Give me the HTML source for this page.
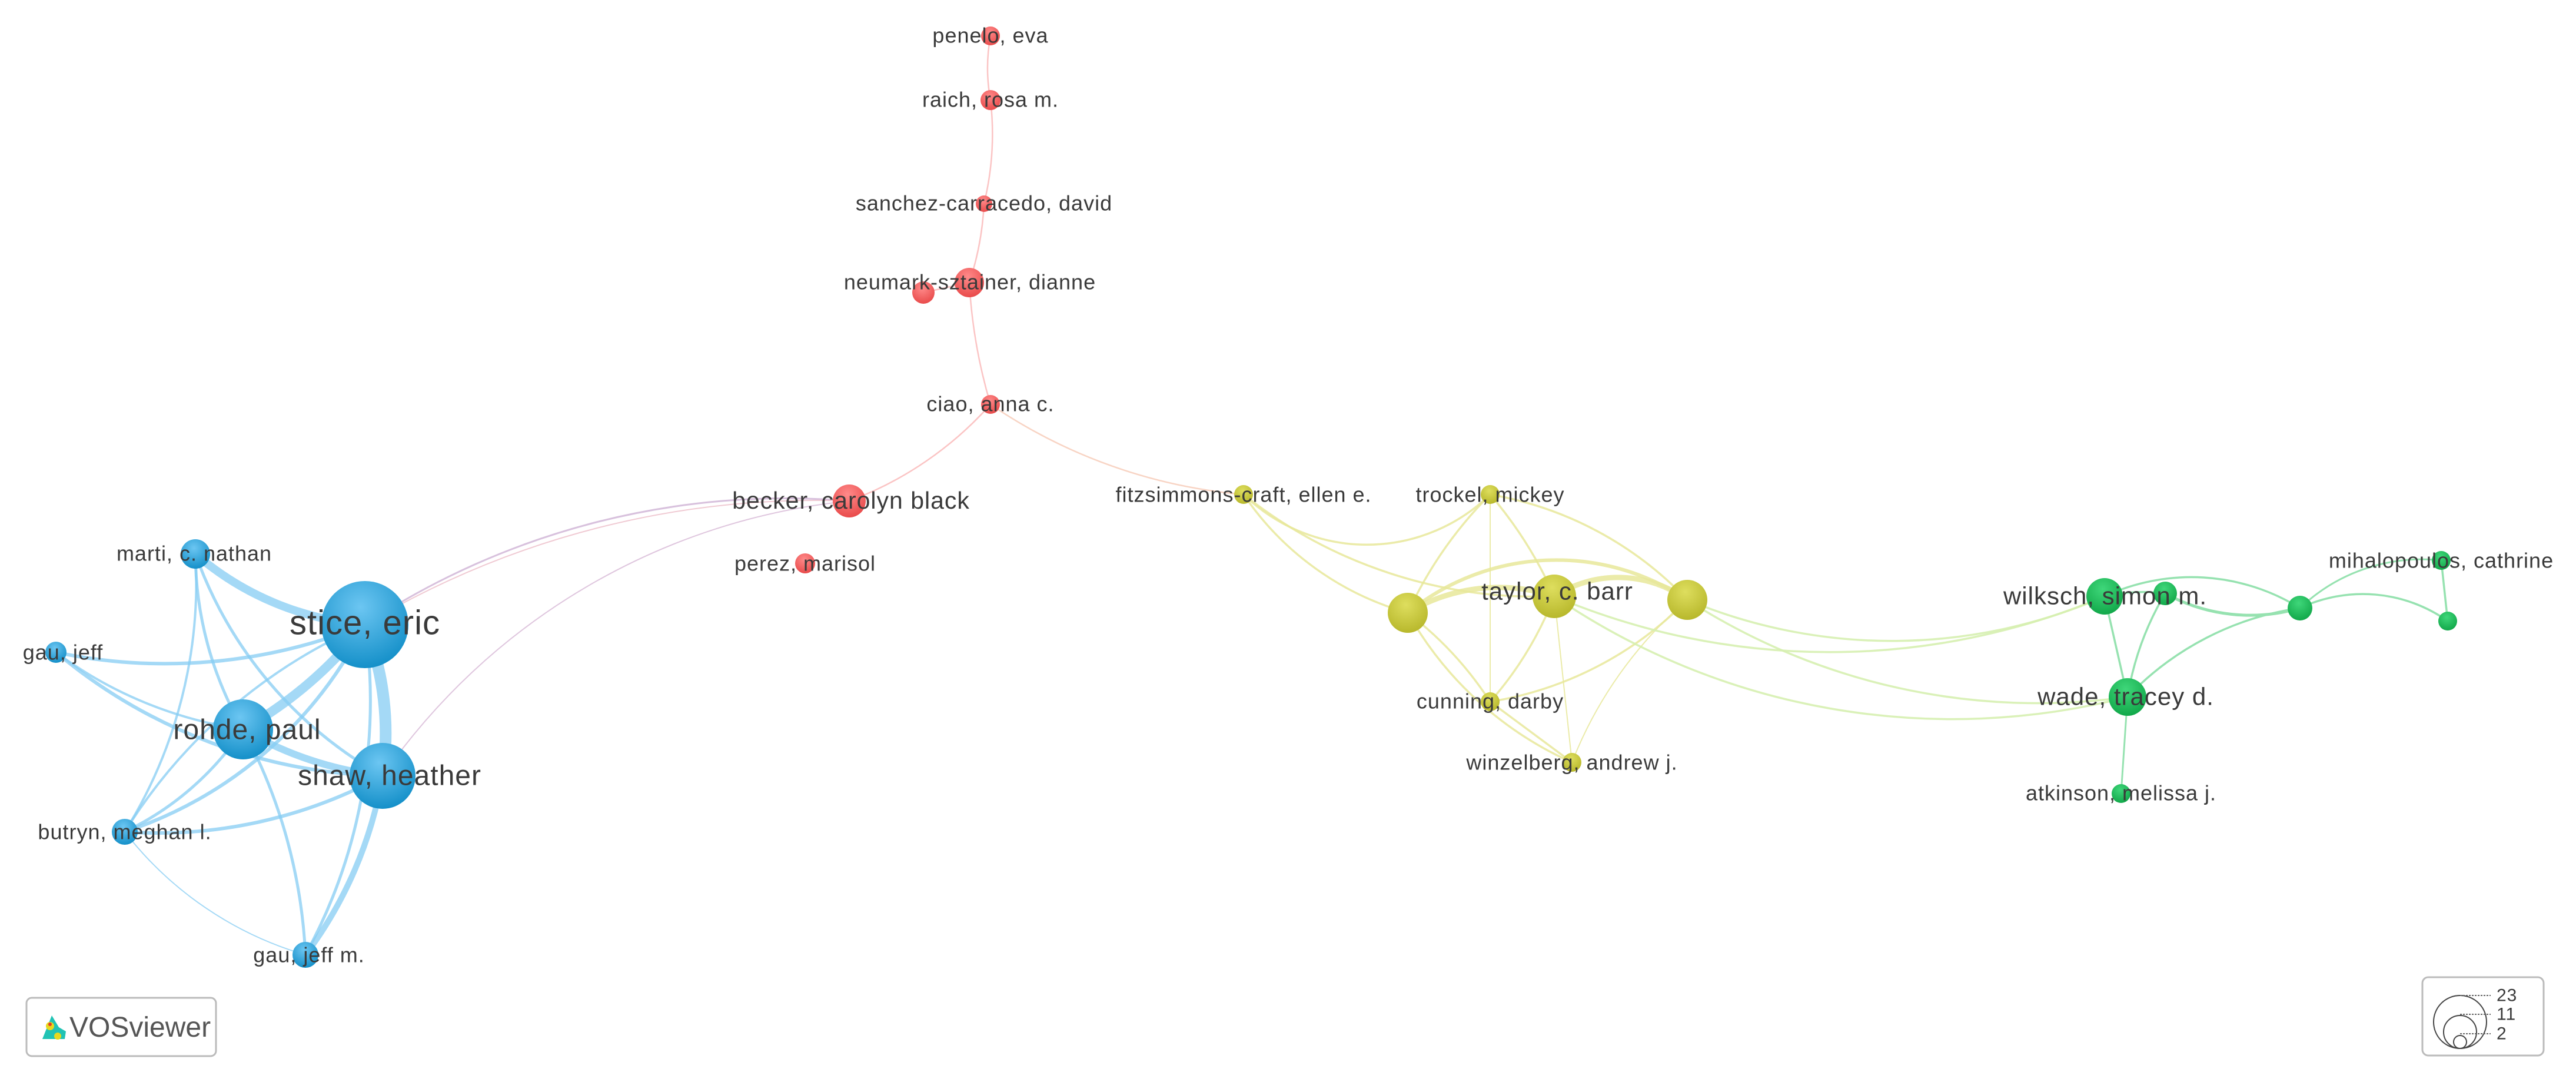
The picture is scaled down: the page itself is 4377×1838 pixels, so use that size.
<!DOCTYPE html>
<html><head><meta charset="utf-8"><style>
html,body{margin:0;padding:0;background:#fff;}
svg{display:block;}
text{font-family:"Liberation Sans",sans-serif;fill:#3a3a3a;letter-spacing:1px;}
</style></head><body>
<svg width="4377" height="1838" viewBox="0 0 4377 1838" xmlns="http://www.w3.org/2000/svg">
<defs>
<radialGradient id="gb" cx="45%" cy="30%" r="70%"><stop offset="0" stop-color="#6cc6f2"/><stop offset="1" stop-color="#1590c9"/></radialGradient>
<radialGradient id="gr" cx="45%" cy="30%" r="70%"><stop offset="0" stop-color="#ff8a8a"/><stop offset="1" stop-color="#e94b4b"/></radialGradient>
<radialGradient id="gy" cx="45%" cy="30%" r="70%"><stop offset="0" stop-color="#dede5e"/><stop offset="1" stop-color="#b8b82c"/></radialGradient>
<radialGradient id="gg" cx="45%" cy="30%" r="70%"><stop offset="0" stop-color="#3fd77a"/><stop offset="1" stop-color="#12a84a"/></radialGradient>
</defs>
<g fill="none" stroke="#86ccf3" stroke-opacity="0.75" stroke-linecap="round">
<path d="M332 941 A500 500 0 0 0 620 1061" stroke-width="14"/>
<path d="M620 1061 A700 700 0 0 1 413 1239" stroke-width="16"/>
<path d="M620 1061 A500 500 0 0 1 650 1318" stroke-width="20"/>
<path d="M413 1239 A600 600 0 0 0 650 1318" stroke-width="12"/>
<path d="M95 1108 A900 900 0 0 0 620 1061" stroke-width="6"/>
<path d="M212 1413 A700 700 0 0 0 620 1061" stroke-width="6"/>
<path d="M212 1413 A900 900 0 0 1 620 1061" stroke-width="4"/>
<path d="M332 941 A600 600 0 0 0 413 1239" stroke-width="5"/>
<path d="M332 941 A700 700 0 0 0 650 1318" stroke-width="5"/>
<path d="M332 941 A800 800 0 0 1 212 1413" stroke-width="4"/>
<path d="M95 1108 A900 900 0 0 0 650 1318" stroke-width="6"/>
<path d="M95 1108 A700 700 0 0 0 413 1239" stroke-width="4"/>
<path d="M413 1239 A500 500 0 0 1 212 1413" stroke-width="5"/>
<path d="M212 1413 A800 800 0 0 0 650 1318" stroke-width="6"/>
<path d="M413 1239 A900 900 0 0 1 519 1622" stroke-width="5"/>
<path d="M650 1318 A700 700 0 0 1 519 1622" stroke-width="10"/>
<path d="M620 1061 A900 900 0 0 1 519 1622" stroke-width="5"/>
<path d="M212 1413 A600 600 0 0 0 519 1622" stroke-width="2"/>
</g>
<g fill="none" stroke="#c8a6cf" stroke-opacity="0.7">
<path d="M620 1061 A1300 1300 0 0 1 1443 851" stroke-width="3"/>
<path d="M620 1061 A1500 1500 0 0 1 1443 851" stroke-width="2" stroke="#e9b3c0"/>
<path d="M650 1318 A1100 1100 0 0 1 1443 851" stroke-width="2" stroke="#d2aed0"/>
</g>
<g fill="none" stroke="#fbc4c4" stroke-width="2.5">
<path d="M1683 61 A300 300 0 0 0 1683 170"/>
<path d="M1683 170 A500 500 0 0 1 1672 346"/>
<path d="M1672 346 A500 500 0 0 1 1647 480"/>
<path d="M1647 480 A900 900 0 0 0 1683 687"/>
<path d="M1647 480 L1569 497"/>
<path d="M1683 687 A600 600 0 0 1 1443 851"/>
<path d="M1683 687 A900 900 0 0 0 2113 840" stroke="#f8d4c4"/>
</g>
<g fill="none" stroke="#e8e89a" stroke-opacity="0.85" stroke-width="3.5">
<path d="M2113 840 A500 500 0 0 0 2392 1041"/>
<path d="M2113 840 A800 800 0 0 0 2641 1013"/>
<path d="M2113 840 A300 300 0 0 0 2532 840"/>
<path d="M2532 840 A700 700 0 0 0 2392 1041"/>
<path d="M2532 840 A700 700 0 0 1 2641 1013"/>
<path d="M2532 840 A600 600 0 0 1 2867 1019"/>
<path d="M2532 840 L2532 1192" stroke-width="2"/>
<path d="M2392 1041 A300 300 0 0 1 2641 1013" stroke-width="9"/>
<path d="M2641 1013 A200 200 0 0 1 2867 1019" stroke-width="9"/>
<path d="M2392 1041 A400 400 0 0 1 2867 1019" stroke-width="6"/>
<path d="M2392 1041 A600 600 0 0 1 2532 1192"/>
<path d="M2392 1041 A600 600 0 0 0 2671 1295"/>
<path d="M2641 1013 A600 600 0 0 1 2532 1192"/>
<path d="M2641 1013 L2671 1295" stroke-width="2"/>
<path d="M2867 1019 A600 600 0 0 1 2532 1192"/>
<path d="M2867 1019 A700 700 0 0 0 2671 1295" stroke-width="2"/>
<path d="M2532 1192 L2671 1295"/>
</g>
<g fill="none" stroke="#d6efb0" stroke-opacity="0.9" stroke-width="3.5">
<path d="M2641 1013 A1200 1200 0 0 0 3576 1013"/>
<path d="M2867 1019 A900 900 0 0 0 3576 1013"/>
<path d="M2641 1013 A1200 1200 0 0 0 3615 1184"/>
<path d="M2867 1019 A1100 1100 0 0 0 3615 1184"/>
</g>
<g fill="none" stroke="#96e2b0" stroke-width="3.5">
<path d="M3576 1013 L3615 1184"/>
<path d="M3576 1013 A300 300 0 0 1 3679 1008"/>
<path d="M3576 1013 A350 350 0 0 1 3908 1033"/>
<path d="M3615 1184 A500 500 0 0 1 3679 1008"/>
<path d="M3615 1184 A500 500 0 0 1 3908 1033"/>
<path d="M3679 1008 A300 300 0 0 0 3908 1033" stroke-width="5"/>
<path d="M3908 1033 A300 300 0 0 1 4148 952" stroke-width="3"/>
<path d="M3908 1033 A250 250 0 0 1 4159 1055"/>
<path d="M4148 952 L4159 1055"/>
<path d="M3615 1184 L3604 1348" stroke-width="3"/>
</g>
<g>
<circle cx="620" cy="1061" r="74" fill="url(#gb)"/>
<circle cx="332" cy="941" r="25" fill="url(#gb)"/>
<circle cx="95" cy="1108" r="18" fill="url(#gb)"/>
<circle cx="413" cy="1239" r="51" fill="url(#gb)"/>
<circle cx="650" cy="1318" r="56" fill="url(#gb)"/>
<circle cx="212" cy="1413" r="22" fill="url(#gb)"/>
<circle cx="519" cy="1622" r="22" fill="url(#gb)"/>
<circle cx="1683" cy="61" r="16" fill="url(#gr)"/>
<circle cx="1683" cy="170" r="17" fill="url(#gr)"/>
<circle cx="1672" cy="346" r="14" fill="url(#gr)"/>
<circle cx="1647" cy="480" r="25" fill="url(#gr)"/>
<circle cx="1569" cy="497" r="19" fill="url(#gr)"/>
<circle cx="1683" cy="687" r="16" fill="url(#gr)"/>
<circle cx="1443" cy="851" r="28" fill="url(#gr)"/>
<circle cx="1368" cy="957" r="17" fill="url(#gr)"/>
<circle cx="2113" cy="840" r="16" fill="url(#gy)"/>
<circle cx="2532" cy="840" r="16" fill="url(#gy)"/>
<circle cx="2392" cy="1041" r="34" fill="url(#gy)"/>
<circle cx="2641" cy="1013" r="37" fill="url(#gy)"/>
<circle cx="2867" cy="1019" r="34" fill="url(#gy)"/>
<circle cx="2532" cy="1192" r="16" fill="url(#gy)"/>
<circle cx="2671" cy="1295" r="16" fill="url(#gy)"/>
<circle cx="3576" cy="1013" r="31" fill="url(#gg)"/>
<circle cx="3679" cy="1008" r="20" fill="url(#gg)"/>
<circle cx="3908" cy="1033" r="21" fill="url(#gg)"/>
<circle cx="4148" cy="952" r="16" fill="url(#gg)"/>
<circle cx="4159" cy="1055" r="16" fill="url(#gg)"/>
<circle cx="3615" cy="1184" r="32" fill="url(#gg)"/>
<circle cx="3604" cy="1348" r="16" fill="url(#gg)"/>
</g>
<g text-anchor="middle" font-size="36" dominant-baseline="central">
<text x="620" y="1058" font-size="58">stice, eric</text>
<text x="330" y="940">marti, c. nathan</text>
<text x="107" y="1108">gau, jeff</text>
<text x="420" y="1240" font-size="48">rohde, paul</text>
<text x="662" y="1318" font-size="48">shaw, heather</text>
<text x="212" y="1413">butryn, meghan l.</text>
<text x="525" y="1622">gau, jeff m.</text>
<text x="1683" y="60">penelo, eva</text>
<text x="1683" y="169">raich, rosa m.</text>
<text x="1672" y="345">sanchez-carracedo, david</text>
<text x="1648" y="479">neumark-sztainer, dianne</text>
<text x="1683" y="686">ciao, anna c.</text>
<text x="1446" y="850" font-size="41">becker, carolyn black</text>
<text x="1368" y="957">perez, marisol</text>
<text x="2113" y="840">fitzsimmons-craft, ellen e.</text>
<text x="2532" y="840">trockel, mickey</text>
<text x="2646" y="1004" font-size="42">taylor, c. barr</text>
<text x="2532" y="1191">cunning, darby</text>
<text x="2671" y="1295">winzelberg, andrew j.</text>
<text x="3577" y="1012" font-size="42">wilksch, simon m.</text>
<text x="4148" y="952">mihalopoulos, cathrine</text>
<text x="3612" y="1183" font-size="42">wade, tracey d.</text>
<text x="3604" y="1347">atkinson, melissa j.</text>
</g>
<rect x="45" y="1695" width="322" height="99" rx="9" fill="#fff" stroke="#bbb" stroke-width="3"/>
<g>
<path d="M72 1765 L88 1725 L100 1745 L112 1752 L110 1765 Z" fill="#21c3b4"/>
<circle cx="85" cy="1743" r="7" fill="#e8d81e"/>
<circle cx="85" cy="1740" r="3" fill="#e23b2a"/>
<circle cx="98" cy="1760" r="6" fill="#e8d81e"/>
</g>
<text x="118" y="1761" font-size="48" style="fill:#555;letter-spacing:0">VOSviewer</text>
<rect x="4116" y="1660" width="206" height="133" rx="10" fill="#fff" stroke="#bbb" stroke-width="3"/>
<g fill="none" stroke="#444" stroke-width="2">
<circle cx="4180" cy="1736" r="45"/>
<circle cx="4180" cy="1753" r="28"/>
<circle cx="4180" cy="1770" r="11"/>
</g>
<g stroke="#666" stroke-width="2" stroke-dasharray="3 2">
<line x1="4180" y1="1691" x2="4232" y2="1691"/>
<line x1="4180" y1="1723" x2="4232" y2="1723"/>
<line x1="4180" y1="1756" x2="4232" y2="1756"/>
</g>
<g font-size="30" dominant-baseline="central">
<text x="4242" y="1691">23</text>
<text x="4242" y="1723">11</text>
<text x="4242" y="1756">2</text>
</g>
</svg>
</body></html>
